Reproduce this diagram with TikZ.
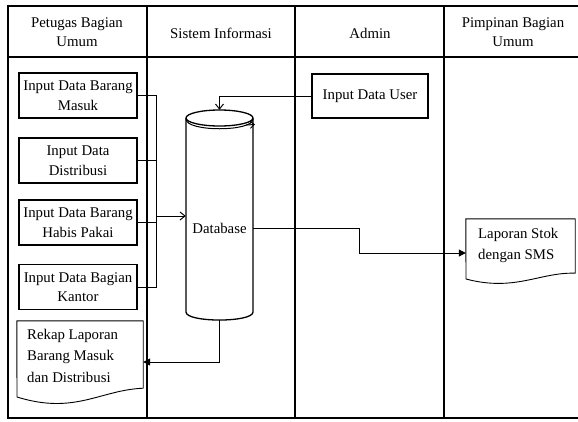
\documentclass[tikz,border=0pt]{standalone}
\usepackage{fontspec}
\setmainfont{Liberation Serif}
\usetikzlibrary{arrows.meta,calc}
\begin{document}
\begin{tikzpicture}[x=1pt,y=-1pt,
  lane/.style={line width=1.8pt},
  txt/.style={font=\fontsize{14.8}{19.5}\selectfont, align=center, inner sep=0pt},
  procbox/.style={draw, line width=1.4pt, minimum width=118pt, minimum height=45pt,
    align=center, inner sep=1pt, font=\fontsize{14.8}{19.5}\selectfont},
  docarea/.style={draw=none, inner sep=0pt},
  doctext/.style={font=\fontsize{14.8}{21.5}\selectfont, align=left, inner sep=0pt, anchor=north west},
  docline/.style={line width=0.9pt, line join=round},
  conn/.style={line width=1pt},
  openarr/.style={conn, -{Straight Barb[length=5pt,width=8pt]}},
  fillarr/.style={conn, -{Triangle[length=7pt,width=7pt]}}
]
\useasboundingbox (0,0) rectangle (578,421);
% swimlanes
\draw[lane] (578,6) -- (8,6) -- (8,418) -- (578,418);
\draw[lane] (8,57) -- (578,57);
\draw[lane] (147,6) -- (147,418);
\draw[lane] (295,6) -- (295,418);
\draw[lane] (444,6) -- (444,418);
% headers
\node[txt] (h1) at (77,32) {Petugas Bagian\\Umum};
\node[txt] (h2) at (221,33) {Sistem Informasi};
\node[txt] (h3) at (370,33) {Admin};
\node[txt] (h4) at (513,32) {Pimpinan Bagian\\Umum};
% process boxes
\node[procbox] (b1) at (78,95.5) {Input Data Barang\\Masuk};
\node[procbox] (b2) at (78,160.5) {Input Data\\Distribusi};
\node[procbox] (b3) at (78,222.5) {Input Data Barang\\Habis Pakai};
\node[procbox] (b4) at (78,287) {Input Data Bagian\\Kantor};
\node[procbox, minimum width=116pt, minimum height=44pt] (usr) at (370,96) {Input Data User};
% database
\node[draw=none, minimum width=67pt, minimum height=210pt, inner sep=0pt] (db) at (219.5,215) {};
\draw[line width=1.3pt] (186,118) -- (186,312) .. controls (186,322.7) and (253,322.7) .. (253,312) -- (253,118);
\draw[line width=1.3pt] (219.5,118) ellipse [x radius=33.5, y radius=8];
\draw[line width=1pt] (186,119) .. controls (186,132) and (253,132) .. (253,119);
\draw[conn, -{Straight Barb[length=4pt,width=7pt]}] (246,125) -- (255,124.5);
\node[txt] (dbt) at (219.5,228) {Database};
% documents
\node[docarea, minimum width=126pt, minimum height=67pt] (rek) at (80,354.5) {};
\draw[docline] (rek.north west) -- (rek.north east) -- (rek.south east)
  .. controls (100,390) and (75,415) .. (17,397) -- cycle;
\node[doctext] (rekt) at (27,329) {Rekap Laporan\\Barang Masuk\\dan Distribusi};
\node[docarea, minimum width=109pt, minimum height=54pt] (lap) at (520.5,246) {};
\draw[docline] (lap.north west) -- (lap.north east) -- (lap.south east)
  .. controls (540,272) and (515,292) .. (466,279) -- cycle;
\node[doctext] (lapt) at (478,228) {Laporan Stok\\dengan SMS};
% connectors
\coordinate (bus) at (156,216);
\draw[conn] (b1.east) -| (bus);
\draw[conn] (b2.east) -| (bus);
\draw[conn] (b3.east) -| (bus);
\draw[conn] (b4.east) -| (bus);
\draw[openarr] (bus) -- (bus -| db.west);
\draw[openarr] (usr.west) -| (db.north);
\coordinate (bend) at (359,253);
\draw[fillarr] (dbt.center -| db.east) -| (bend) -- (bend -| lap.west);
\coordinate (bend2) at (219.5,362);
\draw[fillarr] (db.south) -- (bend2) -- (bend2 -| rek.east);
\end{tikzpicture}
\end{document}
